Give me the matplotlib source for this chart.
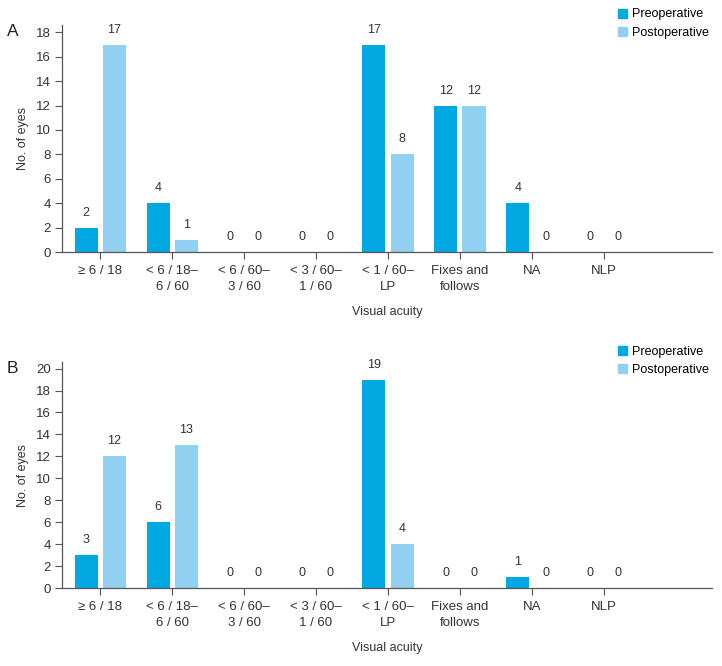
import matplotlib
matplotlib.use('Agg')
import matplotlib.pyplot as plt
import matplotlib.patches as mpatches
import numpy as np

plt.rcParams['font.family'] = ['Liberation Sans', 'DejaVu Sans']

categories = ['\u2265 6 / 18', '< 6 / 18\u2013\n6 / 60', '< 6 / 60\u2013\n3 / 60',
              '< 3 / 60\u2013\n1 / 60', '< 1 / 60\u2013\nLP', 'Fixes and\nfollows',
              'NA', 'NLP']
pre_a = [2, 4, 0, 0, 17, 12, 4, 0]
post_a = [17, 1, 0, 0, 8, 12, 0, 0]
pre_b = [3, 6, 0, 0, 19, 0, 1, 0]
post_b = [12, 13, 0, 0, 4, 0, 0, 0]
yticks_a = list(range(0, 19, 2))
yticks_b = list(range(0, 21, 2))

c_pre = '#00A8E1'
c_post = '#92D0F2'
txt = '#333333'
spine = '#555555'
fs = 9
fs_tick = 9.5

fig = plt.figure(figsize=(7.22, 6.66), dpi=100)
ax_a = fig.add_axes([0.0859, 0.6216, 0.900, 0.3408])
ax_b = fig.add_axes([0.0859, 0.1171, 0.900, 0.3393])

x = np.arange(len(categories))
w = 0.32
off = 0.195


def draw(ax, pre, post, yticks, ytop, letter):
    ax.bar(x - off, pre, w, color=c_pre)
    ax.bar(x + off, post, w, color=c_post)
    for xi, v in zip(x - off, pre):
        ax.annotate(str(v), (xi, v), xytext=(0, 10.8), textcoords='offset points',
                    ha='center', va='center', fontsize=fs, color=txt)
    for xi, v in zip(x + off, post):
        ax.annotate(str(v), (xi, v), xytext=(0, 10.8), textcoords='offset points',
                    ha='center', va='center', fontsize=fs, color=txt)
    ax.set_xlim(-0.53, 8.5)
    ax.set_ylim(0, ytop)
    ax.set_yticks(yticks)
    ax.set_xticks(x)
    ax.set_xticklabels(categories, fontsize=fs_tick, color=txt, linespacing=1.55)
    ax.tick_params(axis='both', colors=spine, labelcolor=txt, labelsize=fs_tick,
                   length=5, width=0.8, pad=3)
    ax.tick_params(axis='x', pad=4)
    for s in ['top', 'right']:
        ax.spines[s].set_visible(False)
    for s in ['left', 'bottom']:
        ax.spines[s].set_color(spine)
        ax.spines[s].set_linewidth(0.9)
    ax.set_ylabel('No. of eyes', fontsize=fs, color=txt, labelpad=5)
    ax.set_xlabel('Visual acuity', fontsize=fs, color=txt, labelpad=9)
    ax.text(-0.085, 0.97, letter, transform=ax.transAxes, fontsize=12.5,
            color='#222222', ha='left', va='center')
    handles = [mpatches.Patch(color=c_pre, label='Preoperative'),
               mpatches.Patch(color=c_post, label='Postoperative')]
    ax.legend(handles=handles, loc='upper right', bbox_to_anchor=(1.003, 1.095),
              frameon=False, fontsize=9, handlelength=0.75, handleheight=0.75,
              handletextpad=0.4, labelspacing=0.5, borderaxespad=0)


draw(ax_a, pre_a, post_a, yticks_a, 18.6, 'A')
draw(ax_b, pre_b, post_b, yticks_b, 20.6, 'B')

fig.savefig('out.png', dpi=100)
